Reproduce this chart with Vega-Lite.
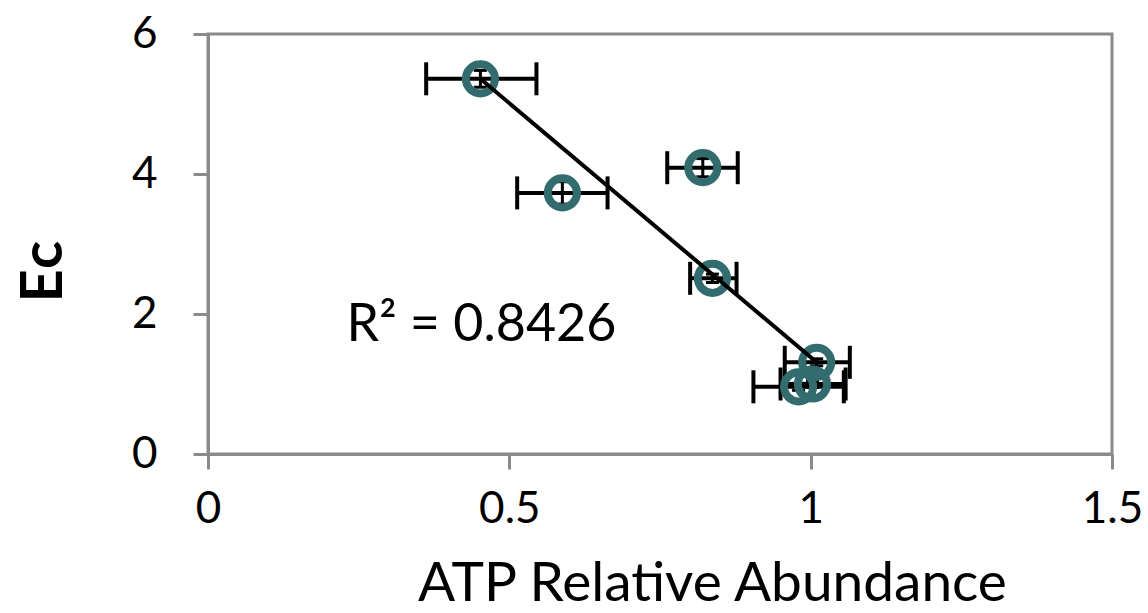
{
  "$schema": "https://vega.github.io/schema/vega-lite/v6.json",
  "autosize": {"type": "none"},
  "padding": {"left": 208, "top": 34, "right": 37, "bottom": 159},
  "width": 904,
  "height": 420,
  "background": "white",
  "config": {
    "font": "Lato",
    "view": {"stroke": "#8a8a8a", "strokeWidth": 3},
    "axis": {
      "grid": false,
      "domainColor": "#8a8a8a",
      "domainWidth": 3,
      "tickColor": "#8a8a8a",
      "tickWidth": 3,
      "tickSize": 15,
      "labelFont": "Lato",
      "labelFontSize": 44,
      "labelColor": "black",
      "labelFlush": false,
      "titleFont": "Lato",
      "titleColor": "black",
      "titleFontWeight": "normal"
    }
  },
  "datasets": {
    "pts": [
      {"x": 0.452, "y": 5.36, "xlo": 0.362, "xhi": 0.545, "ylo": 5.24, "yhi": 5.48},
      {"x": 0.588, "y": 3.73, "xlo": 0.513, "xhi": 0.663, "ylo": 3.57, "yhi": 3.89},
      {"x": 0.821, "y": 4.09, "xlo": 0.762, "xhi": 0.879, "ylo": 3.96, "yhi": 4.22},
      {"x": 0.837, "y": 2.51, "xlo": 0.800, "xhi": 0.877, "ylo": 2.45, "yhi": 2.57},
      {"x": 1.010, "y": 1.31, "xlo": 0.957, "xhi": 1.065, "ylo": 1.26, "yhi": 1.36},
      {"x": 0.980, "y": 0.96, "xlo": 0.905, "xhi": 1.055, "ylo": 0.91, "yhi": 1.01},
      {"x": 1.003, "y": 1.00, "xlo": 0.950, "xhi": 1.058, "ylo": 0.95, "yhi": 1.05}
    ],
    "trend": [
      {"x": 0.452, "y": 5.36},
      {"x": 1.010, "y": 1.31}
    ],
    "note": [
      {"x": 0.23, "y": 1.62, "label": "R² = 0.8426"}
    ]
  },
  "layer": [
    {
      "data": {"name": "pts"},
      "mark": {"type": "errorbar", "color": "black", "opacity": 1, "ticks": {"size": 33, "thickness": 4, "color": "black", "opacity": 1}, "rule": {"strokeWidth": 4, "color": "black", "opacity": 1}},
      "encoding": {
        "x": {"field": "xlo", "type": "quantitative", "scale": {"domain": [0, 1.5], "nice": false, "zero": false},
          "axis": {"values": [0, 0.5, 1, 1.5], "format": "~g", "labelPadding": 18, "title": "ATP Relative Abundance", "titleFontSize": 55, "titlePadding": 26, "titleX": 504, "titleAlign": "center"}},
        "x2": {"field": "xhi"},
        "y": {"field": "y", "type": "quantitative", "scale": {"domain": [0, 6], "nice": false, "zero": false},
          "axis": {"values": [0, 2, 4, 6], "format": "~g", "labelPadding": 36, "title": "Eᴄ", "titleFontSize": 58, "titleFontWeight": "bold", "titlePadding": 58, "titleY": 237}}
      }
    },
    {
      "data": {"name": "pts"},
      "mark": {"type": "errorbar", "color": "black", "opacity": 1, "ticks": {"size": 13, "thickness": 3, "color": "black", "opacity": 1}, "rule": {"strokeWidth": 3, "color": "black", "opacity": 1}},
      "encoding": {
        "x": {"field": "x", "type": "quantitative", "title": "ATP Relative Abundance"},
        "y": {"field": "ylo", "type": "quantitative", "title": "Eᴄ"},
        "y2": {"field": "yhi"}
      }
    },
    {
      "data": {"name": "pts"},
      "mark": {"type": "point", "shape": "circle", "filled": false, "size": 850, "strokeWidth": 8, "color": "#326c6f", "opacity": 1},
      "encoding": {
        "x": {"field": "x", "type": "quantitative", "title": "ATP Relative Abundance"},
        "y": {"field": "y", "type": "quantitative", "title": "Eᴄ"}
      }
    },
    {
      "data": {"name": "trend"},
      "mark": {"type": "line", "color": "black", "strokeWidth": 4},
      "encoding": {
        "x": {"field": "x", "type": "quantitative", "title": "ATP Relative Abundance"},
        "y": {"field": "y", "type": "quantitative", "title": "Eᴄ"}
      }
    },
    {
      "data": {"name": "note"},
      "mark": {"type": "text", "align": "left", "baseline": "alphabetic", "fontSize": 52, "font": "Lato", "color": "black"},
      "encoding": {
        "x": {"field": "x", "type": "quantitative", "title": "ATP Relative Abundance"},
        "y": {"field": "y", "type": "quantitative", "title": "Eᴄ"},
        "text": {"field": "label"}
      }
    }
  ]
}
